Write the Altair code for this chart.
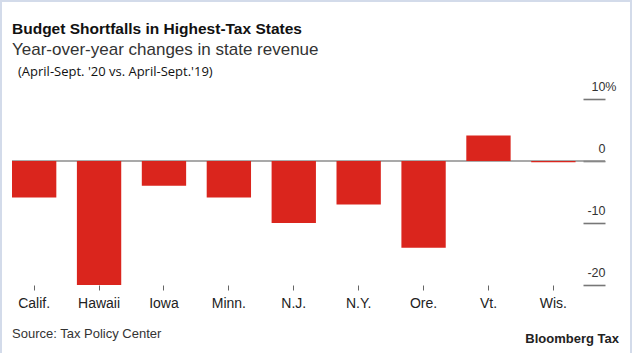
import altair as alt
import pandas as pd

# ---- data ----
states = ["Calif.", "Hawaii", "Iowa", "Minn.", "N.J.", "N.Y.", "Ore.", "Vt.", "Wis."]
changes = [-5.9, -20.0, -4.0, -5.9, -10.0, -7.0, -14.0, 4.1, -0.2]
y_ticks = [-20, -10, 0, 10]

title_text = ["Budget Shortfalls in Highest-Tax States"]
subtitle_text = ["Year-over-year changes in state revenue"]
period_text = ["(April-Sept. '20 vs. April-Sept.'19)"]
source_text = ["Source: Tax Policy Center"]
brand_text = ["Bloomberg Tax"]

df = pd.DataFrame({"state": states, "change": changes})

FONT = "Liberation Sans, Arial, Helvetica, sans-serif"
RED = "#da251d"

y_scale = alt.Scale(domain=[-20, 10], nice=False, zero=False)
x_scale = alt.Scale(paddingInner=0.317, paddingOuter=0.227, align=0)

zero_rule = alt.Chart(pd.DataFrame({"z": [0]})).mark_rule(
    color="#8c8c8c", strokeWidth=1.6
).encode(y=alt.Y("z:Q", scale=y_scale))

bars = alt.Chart(df).mark_bar(color=RED).encode(
    x=alt.X(
        "state:N",
        sort=states,
        scale=x_scale,
        axis=alt.Axis(
            title=None,
            domain=False,
            labelAngle=0,
            labelFont=FONT,
            labelFontSize=14,
            labelColor="#222222",
            labelPadding=6,
            tickSize=5,
            tickColor="#666666",
            tickWidth=1,
            grid=False,
        ),
    ),
    y=alt.Y(
        "change:Q",
        scale=y_scale,
        axis=alt.Axis(
            title=None,
            orient="right",
            offset=-22,
            values=y_ticks,
            domain=False,
            grid=False,
            tickSize=22,
            tickColor="#777777",
            tickWidth=1.6,
            labelAlign="right",
            labelBaseline="alphabetic",
            labelOffset=-9,
            labelPadding={"condition": {"test": "datum.value == 10", "value": 11}, "value": 0},
            labelExpr="datum.value == 10 ? '10%' : '' + datum.value",
            labelFont=FONT,
            labelFontSize=12.5,
            labelColor="#333333",
        ),
    ),
    y2=alt.datum(0),
)


def text_layer(values, x, y, **kw):
    return alt.Chart(pd.DataFrame({"t": values})).mark_text(
        baseline="alphabetic", **kw
    ).encode(text="t:N", x=alt.value(x), y=alt.value(y))


title = text_layer(title_text, 0, -65, align="left", font=FONT, fontSize=15.5,
                   fontWeight="bold", color="#111111")
subtitle = text_layer(subtitle_text, 0, -44, align="left", font=FONT, fontSize=17,
                      color="#333333")
period = text_layer(period_text, 6, -23.5, align="left",
                    font="Open Sans, Lato, sans-serif", fontSize=13, color="#111111")
source = text_layer(source_text, 0, 239, align="left", font=FONT, fontSize=13,
                    color="#333333")
brand = text_layer(brand_text, 607, 243.5, align="right", font=FONT,
                   fontSize=13, fontWeight="bold", color="#222222")

frame = alt.Chart(pd.DataFrame({"f": [1]})).mark_rect(
    fill="transparent", stroke="#d3dbea", strokeWidth=2
).encode(x=alt.value(-11), x2=alt.value(619), y=alt.value(-98), y2=alt.value(262))

chart = alt.layer(zero_rule, bars, title, subtitle, period, source, brand, frame).properties(
    width=593,
    height=186,
    autosize=alt.AutoSizeParams(type="none"),
    padding={"left": 12, "top": 99, "right": 28, "bottom": 68},
    background="white",
).configure_view(stroke=None)

chart.save("out.html", embed_options={"renderer": "svg", "actions": False})
